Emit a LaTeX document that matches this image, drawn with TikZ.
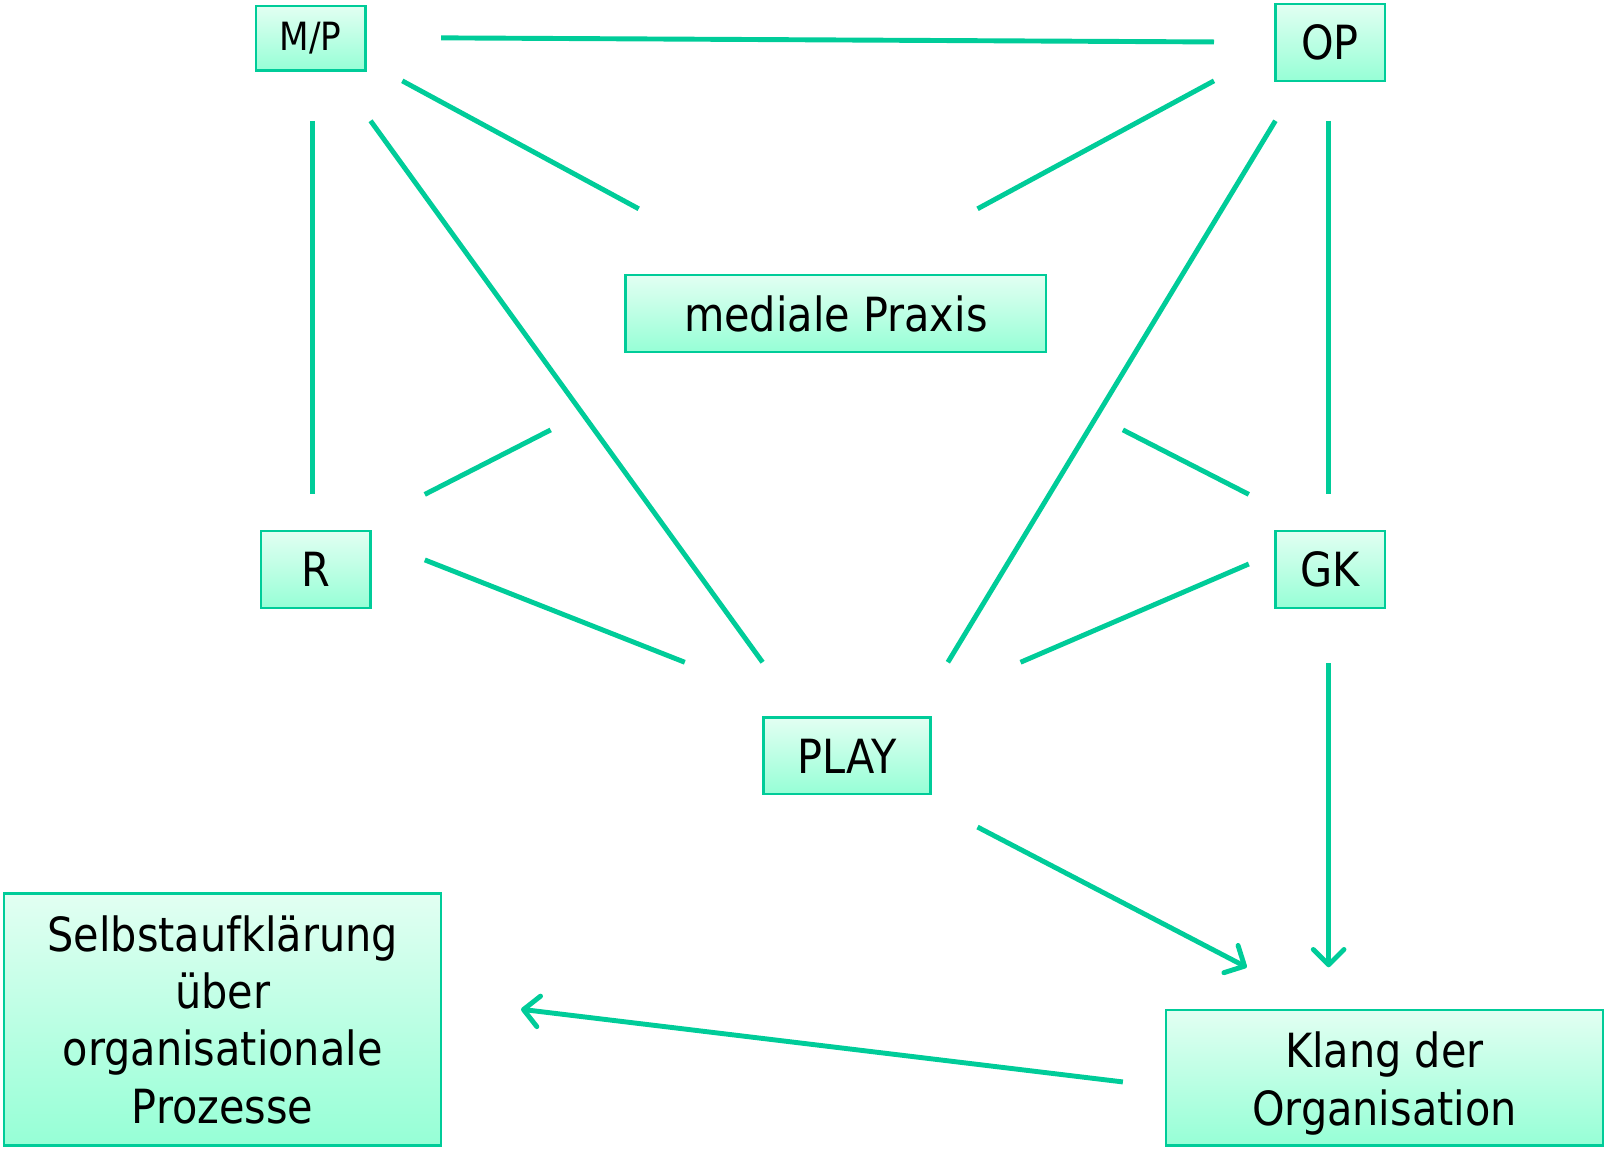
\documentclass[tikz,border=0pt]{standalone}
\usepackage{fontspec}
\setmainfont{DejaVu Sans}[FakeStretch=0.88]
\usetikzlibrary{arrows.meta}
\definecolor{ln}{HTML}{00CC99}
\definecolor{boxtop}{HTML}{E2FFF2}
\definecolor{boxbot}{HTML}{96FFD6}
\begin{document}
\begin{tikzpicture}[x=0.5pt,y=-0.5pt,
  box/.style={draw=ln, line width=1.1pt, top color=boxtop, bottom color=boxbot, inner sep=0pt, align=center, font=\fontsize{23}{28}\selectfont},
  conn/.style={draw=ln, line width=2.4pt},
  arr/.style={conn, -{Straight Barb[length=7.5pt,width=15pt,round]}}]
\useasboundingbox (0,0) rectangle (1568,1122);
% nodes
\node[box, minimum width=53.5pt, minimum height=31.5pt, font=\fontsize{19}{23}\selectfont] (MP) at (303.5,37.5) {\raisebox{-1pt}{M/P}};
\node[box, minimum width=53.5pt, minimum height=37.5pt] (OP) at (1299.5,41.5) {OP};
\node[box, minimum width=205.5pt, minimum height=37.5pt] (MPx) at (816.5,306.5) {mediale Praxis};
\node[box, minimum width=53.5pt, minimum height=37.5pt] (R) at (308.5,556.5) {R};
\node[box, minimum width=53.5pt, minimum height=37.5pt] (GK) at (1299.5,556.5) {GK};
\node[box, minimum width=81.5pt, minimum height=37.5pt] (PLAY) at (827.5,738.5) {PLAY};
\node[box, minimum width=213.5pt, minimum height=123pt] (SA) at (217.5,996) {Selbstaufklärung\\über\\organisationale\\Prozesse};
\node[box, minimum width=213.5pt, minimum height=66pt] (KL) at (1352.5,1053) {\raisebox{-9.8pt}[0pt][0pt]{\begin{tabular}{@{}c@{}}Klang der\\Organisation\end{tabular}}};
% connector end points
\coordinate (a1) at (431,37);   \coordinate (b1) at (1186,41);
\coordinate (a2) at (393,79);   \coordinate (b2) at (624,204);
\coordinate (a3) at (1186,79);  \coordinate (b3) at (955,204);
\coordinate (a4) at (305,118);  \coordinate (b4) at (305,483);
\coordinate (a5) at (362,118);  \coordinate (b5) at (745,647);
\coordinate (a6) at (1246,118); \coordinate (b6) at (926,647);
\coordinate (a7) at (1298,118); \coordinate (b7) at (1298,483);
\coordinate (a8) at (415,483);  \coordinate (b8) at (538,420);
\coordinate (a9) at (1220,483); \coordinate (b9) at (1097,420);
\coordinate (a10) at (415,547); \coordinate (b10) at (669,647);
\coordinate (a11) at (1220,551);\coordinate (b11) at (997,647);
\coordinate (a12) at (955,808); \coordinate (b12) at (1218,945);
\coordinate (a13) at (1298,648);\coordinate (b13) at (1298,945);
\coordinate (a14) at (1097,1057);\coordinate (b14) at (509,986);
% connectors
\draw[conn] (a1) -- (b1);
\draw[conn] (a2) -- (b2);
\draw[conn] (a3) -- (b3);
\draw[conn] (a4) -- (b4);
\draw[conn] (a5) -- (b5);
\draw[conn] (a6) -- (b6);
\draw[conn] (a7) -- (b7);
\draw[conn] (a8) -- (b8);
\draw[conn] (a9) -- (b9);
\draw[conn] (a10) -- (b10);
\draw[conn] (a11) -- (b11);
\draw[arr] (a12) -- (b12);
\draw[arr] (a13) -- (b13);
\draw[arr] (a14) -- (b14);
\end{tikzpicture}
\end{document}
